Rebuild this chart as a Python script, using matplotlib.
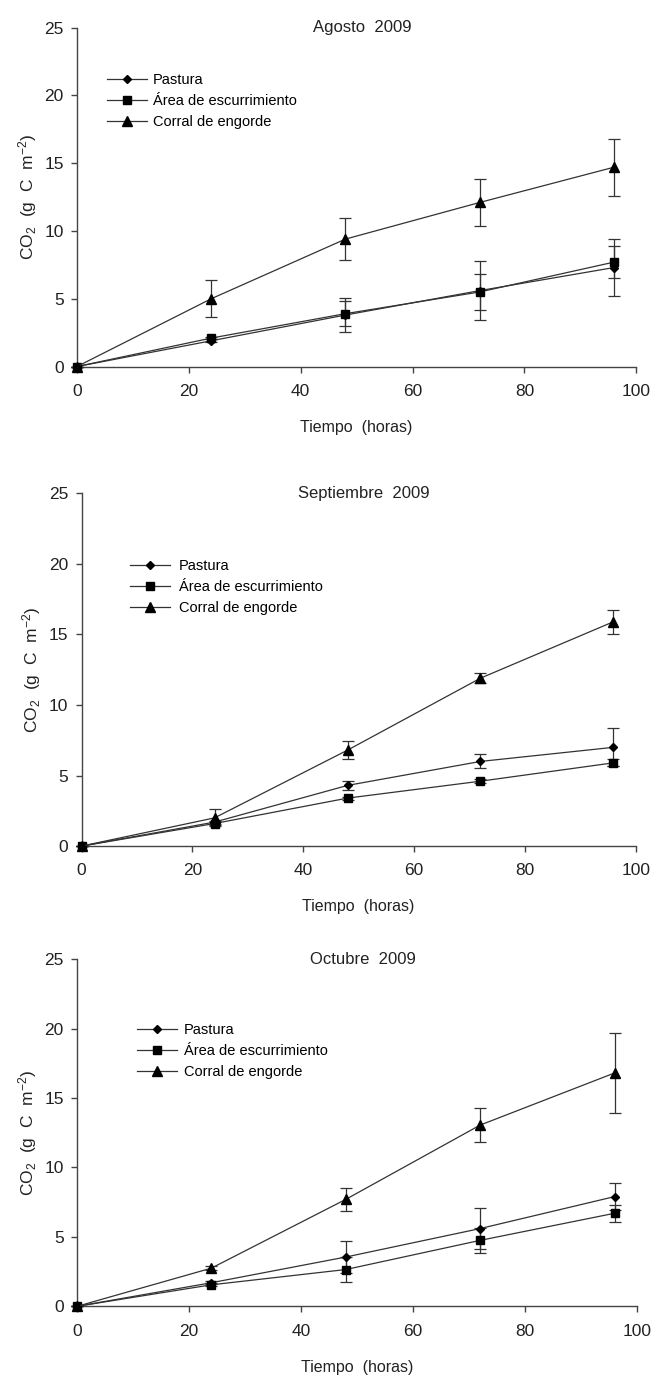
import matplotlib
matplotlib.use('Agg')
import matplotlib.pyplot as plt

plt.rcParams['font.family'] = ['Liberation Sans', 'DejaVu Sans']
plt.rcParams['mathtext.fontset'] = 'custom'
plt.rcParams['mathtext.rm'] = 'Liberation Sans'
plt.rcParams['mathtext.it'] = 'Liberation Sans:italic'

hours = [0, 24, 48, 72, 96]
labels = ['Pastura', 'Área de escurrimiento', 'Corral de engorde']
titles = ['Agosto  2009', 'Septiembre  2009', 'Octubre  2009']

# Agosto
ago_pastura = [0, 1.9, 3.8, 5.6, 7.3]
ago_pastura_err = [0, 0.1, 1.25, 2.2, 2.1]
ago_area = [0, 2.1, 3.9, 5.5, 7.7]
ago_area_err = [0, 0.1, 0.9, 1.3, 1.2]
ago_corral = [0, 5.0, 9.4, 12.1, 14.7]
ago_corral_err = [0, 1.35, 1.55, 1.7, 2.1]

# Septiembre
sep_pastura = [0, 1.7, 4.3, 6.0, 7.0]
sep_pastura_err = [0, 0.1, 0.3, 0.5, 1.35]
sep_area = [0, 1.6, 3.4, 4.6, 5.9]
sep_area_err = [0, 0.1, 0.1, 0.15, 0.25]
sep_corral = [0, 2.0, 6.8, 11.9, 15.9]
sep_corral_err = [0, 0.6, 0.65, 0.35, 0.85]

# Octubre
oct_pastura = [0, 1.7, 3.55, 5.6, 7.9]
oct_pastura_err = [0, 0.1, 1.15, 1.5, 0.95]
oct_area = [0, 1.55, 2.65, 4.75, 6.7]
oct_area_err = [0, 0.1, 0.9, 0.9, 0.6]
oct_corral = [0, 2.75, 7.7, 13.05, 16.8]
oct_corral_err = [0, 0.15, 0.85, 1.25, 2.85]

panels = [
    (ago_pastura, ago_pastura_err, ago_area, ago_area_err, ago_corral, ago_corral_err),
    (sep_pastura, sep_pastura_err, sep_area, sep_area_err, sep_corral, sep_corral_err),
    (oct_pastura, oct_pastura_err, oct_area, oct_area_err, oct_corral, oct_corral_err),
]

# axes boxes [left, bottom, width, height] and legend anchors
boxes = [
    [0.117, 0.734, 0.850, 0.246],
    [0.124, 0.386, 0.842, 0.256],
    [0.117, 0.052, 0.851, 0.252],
]
leg_pos = [(0.053, 0.865), (0.087, 0.814), (0.107, 0.817)]
leg_pad = [0.4, 0.6, 0.45]

markers = ['D', 's', '^']
msizes = [4.5, 6, 7.5]
line_col = '#333333'
txt_col = '#222222'

fig = plt.figure(figsize=(6.58, 13.78), dpi=100)

for i, data in enumerate(panels):
    ax = fig.add_axes(boxes[i])
    handles = []
    for k in range(3):
        y = data[2 * k]
        e = data[2 * k + 1]
        c = ax.errorbar(hours, y, yerr=e, color=line_col, lw=0.9,
                        marker=markers[k], ms=msizes[k], mfc='black', mec='black',
                        ecolor=line_col, elinewidth=0.9, capsize=4, capthick=0.9,
                        clip_on=False, zorder=3)
        handles.append(c[0])
    ax.set_xlim(0, 100)
    ax.set_ylim(0, 25)
    ax.set_xticks([0, 20, 40, 60, 80, 100])
    ax.set_yticks([0, 5, 10, 15, 20, 25])
    for s in ['top', 'right']:
        ax.spines[s].set_visible(False)
    for s in ['left', 'bottom']:
        ax.spines[s].set_color('#444444')
        ax.spines[s].set_linewidth(1.0)
    ax.tick_params(direction='out', length=4.5, width=1.0, color='#444444',
                   labelsize=12.5, labelcolor=txt_col, pad=5)
    ax.tick_params(axis='x', pad=8)
    ax.set_xlabel('Tiempo  (horas)', fontsize=11.5, color=txt_col, labelpad=15)
    ax.set_ylabel(r'CO$_2$  (g  C  m$^{-2}$)', fontsize=12.5, color=txt_col, labelpad=4)
    ax.text(0.51, 1.0, titles[i], transform=ax.transAxes, ha='center',
            va='center', fontsize=12, color=txt_col)
    ax.legend(handles, labels, loc='upper left', bbox_to_anchor=leg_pos[i],
              frameon=False, fontsize=10.5, handlelength=2.75,
              handletextpad=leg_pad[i], labelspacing=0.48, borderpad=0,
              borderaxespad=0)

fig.savefig('out.png', dpi=100)
